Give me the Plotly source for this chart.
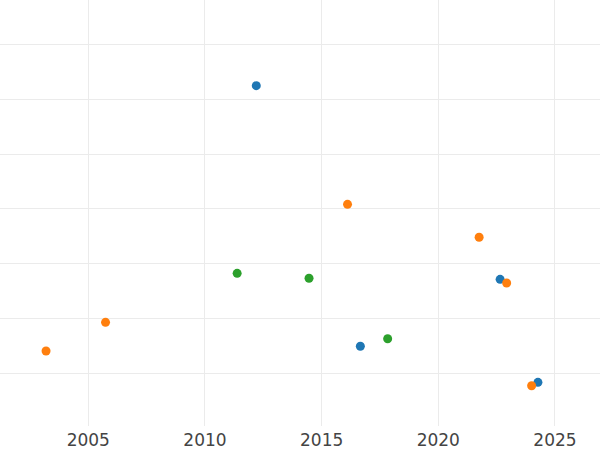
import plotly.graph_objects as go

blue_x = [2012.20, 2022.65, 2016.66, 2024.27]
blue_y = [62.48, 27.11, 14.88, 8.30]
orange_x = [2016.11, 2021.75, 2022.93, 2005.74, 2003.19, 2024.00]
orange_y = [40.81, 34.79, 26.44, 19.26, 14.02, 7.68]
green_x = [2011.38, 2014.46, 2017.83]
green_y = [28.21, 27.30, 16.26]

x_ticks = [2005, 2010, 2015, 2020, 2025]

fig = go.Figure()
for xs, ys, c in [(blue_x, blue_y, "#1f77b4"), (orange_x, orange_y, "#ff7f0e"), (green_x, green_y, "#2ca02c")]:
    fig.add_trace(go.Scatter(x=xs, y=ys, mode="markers",
                             marker=dict(color=c, size=9, line=dict(width=0)),
                             showlegend=False))

fig.update_layout(
    width=600, height=450,
    margin=dict(l=0, r=0, t=0, b=24),
    plot_bgcolor="white", paper_bgcolor="white",
    font=dict(family="DejaVu Sans", size=17, color="#444444"),
    xaxis=dict(range=[2001.217, 2026.93], tickvals=x_ticks, ticktext=[str(t) for t in x_ticks],
               showgrid=True, gridcolor="#ebebeb", gridwidth=1, zeroline=False,
               showline=False, ticks="", ticklabelstandoff=2),
    yaxis=dict(range=[0.32, 78.13], dtick=10, tick0=0, showticklabels=False,
               showgrid=True, gridcolor="#ebebeb", gridwidth=1, zeroline=False,
               showline=False, ticks=""),
)
fig.write_html("out.html", config={"displayModeBar": False},
               post_script="document.body.style.margin='0';")
